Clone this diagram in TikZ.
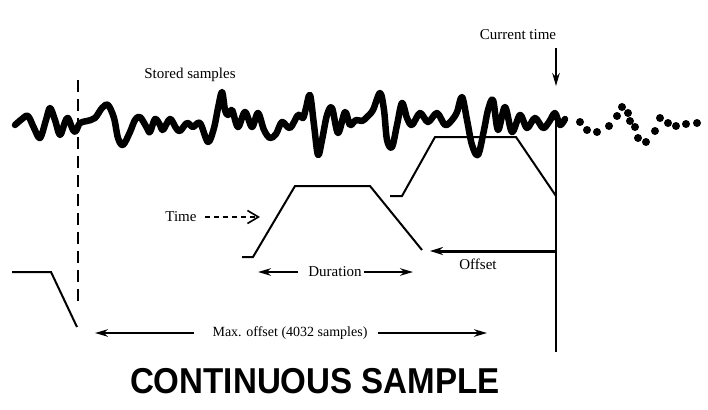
\documentclass[tikz,border=0pt]{standalone}
\usepackage{fontspec}
\setmainfont{Liberation Serif}
\newfontfamily\titlefont{Liberation Sans}
\usetikzlibrary{arrows.meta}

\begin{document}
\begin{tikzpicture}[x=1pt,y=-1pt,
		lbl/.style={font=\fontsize{15}{17}\selectfont, inner sep=0pt},
		pen/.style={line width=2pt},
		dimarrow/.style={line width=2pt, -{Stealth[length=13pt,width=7.5pt]}},
		wave/.style={line width=6.5pt, line cap=round, line join=round}]
		\useasboundingbox (0,0) rectangle (708,409);
		
		% labels
		\node[lbl] (stored) at (190,75) {Stored samples};
		\node[lbl] (now) at (518,35) {Current time};
		\node[lbl] (time) at (181,217) {Time};
		\node[lbl] (dur) at (335,272) {Duration};
		\node[lbl] (off) at (478,264) {Offset};
		\node[lbl, font=\fontsize{14}{16}\selectfont] (maxoff) at (290,333) {Max. offset (4032 samples)};
		\node[font=\titlefont\bfseries\fontsize{36}{40}\selectfont, xscale=0.92, inner sep=0pt] (title) at (315,381) {CONTINUOUS SAMPLE};
		
		\coordinate (ctTop) at (556,48);
		\coordinate (ctTip) at (556,86);
		\coordinate (nowTop) at (556,118);
		\coordinate (nowBot) at (556,352);
		\coordinate (offR) at (556,251);
		\coordinate (offL) at (430,251);
		\coordinate (durL) at (258,272);
		\coordinate (durR) at (413,272);
		\coordinate (maxL) at (95,333);
		\coordinate (maxR) at (487,333);
		\coordinate (timeTip) at (260,217);
		
		% envelopes
		\draw[pen] (12,272) -- (51,272) -- (77,327);
		\draw[pen] (242,257) -- (253,257) -- (295,186) -- (370,186) -- (422,250);
		\draw[pen] (390,196) -- (402,196) -- (435,137) -- (516,137) -- (556,196);
		\draw[line width=2pt, dash pattern=on 12pt off 7pt] (78,80) -- (78,305);
		\draw[pen] (nowTop) -- (nowBot);
		
		% stored samples
		\draw[wave] plot[smooth, tension=0.55] coordinates {
			(15,125) (22,119) (28,116) (34,128) (40,138) (46,120) (50,108) (55,120)
			(60,135) (65,122) (68,118) (73,130) (76,131) (80,123) (87,121) (95,118)
			(102,108) (108,105) (114,118) (118,138) (123,145) (130,132) (135,120)
			(140,117) (147,128) (150,132) (155,119) (160,125) (163,130) (170,119)
			(176,128) (180,131) (187,123) (193,127) (200,123) (208,142) (214,128)
			(218,108) (222,92) (225,110) (228,115) (232,110) (238,127) (245,112)
			(252,127) (258,113) (264,130) (270,138) (276,134) (282,122) (290,128)
			(298,115) (303,118) (306,108) (310,95) (314,125) (318,155) (322,140)
			(327,115) (332,108) (338,133) (345,112) (350,125) (356,120) (362,121)
			(367,117) (373,110) (380,93) (384,110) (387,140) (392,147) (397,125)
			(402,103) (407,118) (412,125) (420,113) (428,122) (437,113) (445,125)
			(452,120) (457,112) (462,97) (467,120) (472,145) (478,155) (484,130)
			(488,110) (493,100) (498,130) (505,107) (512,132) (520,115) (527,128)
			(535,118) (543,128) (549,122) (555,113) (560,125) (565,119)};
		\foreach \x/\y in {580/122, 587/130, 597/132, 609/126, 617/116, 622/107,
			628/113, 630/121, 635/127, 638/138, 646/142, 655/131, 660/118,
			668/123, 676/126, 686/124, 697/123}
			\fill (\x,\y) circle (4pt);
		
		% arrows
		\draw[dimarrow] (ctTop) -- (ctTip);
		\draw[line width=3pt, -{Stealth[length=13pt,width=8pt]}] (offR) -- (offL);
		\draw[dimarrow] ([xshift=-10pt]dur.west) -- (durL);
		\draw[dimarrow] ([xshift=2pt]dur.east) -- (durR);
		\draw[dimarrow] ([xshift=-18pt]maxoff.west) -- (maxL);
		\draw[dimarrow] ([xshift=10pt]maxoff.east) -- (maxR);
		\draw[line width=1.6pt, dash pattern=on 5pt off 4pt,
			-{Straight Barb[length=11pt,width=13pt,line width=1.6pt]}] ([xshift=8pt]time.east) -- (timeTip);
	\end{tikzpicture}
\end{document}
